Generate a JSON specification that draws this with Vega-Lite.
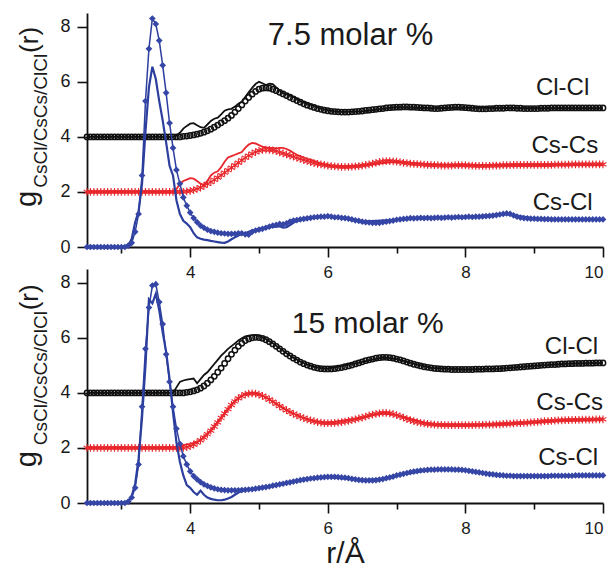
{
"$schema": "https://vega.github.io/schema/vega-lite/v6.json",
"background": "white",
"padding": {"left": 13, "top": 13, "right": 0, "bottom": 0},
"bounds": "flush",
"spacing": 22,
"datasets": {
"m75": [
{"r":2.5,"a":4,"b":2,"c":0},{"r":2.55,"a":4,"b":2,"c":0},{"r":2.6,"a":4,"b":2,"c":0},{"r":2.65,"a":4,"b":2,"c":0},{"r":2.7,"a":4,"b":2,"c":0},{"r":2.75,"a":4,"b":2,"c":0},{"r":2.8,"a":4,"b":2,"c":0},{"r":2.85,"a":4,"b":2,"c":0},{"r":2.9,"a":4,"b":2,"c":0},{"r":2.95,"a":4,"b":2,"c":0},{"r":3.0,"a":4,"b":2,"c":0},{"r":3.05,"a":4,"b":2,"c":0},
{"r":3.1,"a":4,"b":2,"c":0.05},{"r":3.15,"a":4,"b":2,"c":0.15},{"r":3.2,"a":4,"b":2,"c":0.55},{"r":3.25,"a":4,"b":2,"c":1.2},{"r":3.3,"a":4,"b":2,"c":2.6},{"r":3.35,"a":4,"b":2,"c":5.3},{"r":3.4,"a":4,"b":2,"c":7.2},{"r":3.45,"a":4,"b":2,"c":8.3},{"r":3.5,"a":4,"b":2,"c":8.1},{"r":3.55,"a":4,"b":2,"c":7.5},{"r":3.6,"a":4,"b":2,"c":6.6},{"r":3.65,"a":4,"b":2,"c":5.6},{"r":3.7,"a":4,"b":2,"c":4.5},{"r":3.75,"a":4,"b":2,"c":3.6},{"r":3.8,"a":4,"b":2,"c":2.8},{"r":3.85,"a":4,"b":2,"c":2.3},
{"r":3.9,"a":4.02,"b":2,"c":1.8},{"r":3.95,"a":4.03,"b":2.02,"c":1.5},{"r":4.0,"a":4.05,"b":2.04,"c":1.25},{"r":4.05,"a":4.07,"b":2.07,"c":1.05},{"r":4.1,"a":4.1,"b":2.11,"c":0.9},{"r":4.15,"a":4.13,"b":2.16,"c":0.78},{"r":4.2,"a":4.17,"b":2.22,"c":0.7},{"r":4.25,"a":4.22,"b":2.29,"c":0.63},{"r":4.3,"a":4.28,"b":2.36,"c":0.58},{"r":4.35,"a":4.35,"b":2.44,"c":0.55},{"r":4.4,"a":4.43,"b":2.52,"c":0.52},{"r":4.45,"a":4.51,"b":2.61,"c":0.5},{"r":4.5,"a":4.59,"b":2.7,"c":0.49},{"r":4.55,"a":4.68,"b":2.79,"c":0.48},{"r":4.6,"a":4.78,"b":2.88,"c":0.48},{"r":4.65,"a":4.9,"b":2.97,"c":0.48},{"r":4.7,"a":5.03,"b":3.06,"c":0.5},{"r":4.75,"a":5.16,"b":3.15,"c":0.5},{"r":4.8,"a":5.3,"b":3.24,"c":0.46},{"r":4.85,"a":5.43,"b":3.32,"c":0.45},{"r":4.9,"a":5.55,"b":3.39,"c":0.55},{"r":4.95,"a":5.65,"b":3.45,"c":0.6},
{"r":5.0,"a":5.73,"b":3.5,"c":0.63},{"r":5.05,"a":5.77,"b":3.53,"c":0.66},{"r":5.1,"a":5.78,"b":3.54,"c":0.7},{"r":5.15,"a":5.77,"b":3.53,"c":0.74},{"r":5.2,"a":5.73,"b":3.51,"c":0.78},{"r":5.25,"a":5.68,"b":3.48,"c":0.8},{"r":5.3,"a":5.62,"b":3.44,"c":0.84},{"r":5.35,"a":5.56,"b":3.4,"c":0.82},{"r":5.4,"a":5.5,"b":3.36,"c":0.86},{"r":5.45,"a":5.44,"b":3.32,"c":0.92},{"r":5.5,"a":5.38,"b":3.28,"c":0.96},{"r":5.55,"a":5.32,"b":3.24,"c":0.98},{"r":5.6,"a":5.26,"b":3.2,"c":1.0},{"r":5.65,"a":5.2,"b":3.16,"c":1.02},{"r":5.7,"a":5.15,"b":3.12,"c":1.04},{"r":5.75,"a":5.11,"b":3.08,"c":1.06},{"r":5.8,"a":5.07,"b":3.05,"c":1.08},{"r":5.85,"a":5.03,"b":3.02,"c":1.09},{"r":5.9,"a":5.0,"b":3.0,"c":1.1},{"r":5.95,"a":4.97,"b":2.98,"c":1.1},
{"r":6.0,"a":4.95,"b":2.96,"c":1.12},{"r":6.05,"a":4.93,"b":2.94,"c":1.1},{"r":6.1,"a":4.92,"b":2.93,"c":1.08},{"r":6.15,"a":4.91,"b":2.92,"c":1.08},{"r":6.2,"a":4.9,"b":2.91,"c":1.06},{"r":6.25,"a":4.9,"b":2.91,"c":1.05},{"r":6.3,"a":4.9,"b":2.91,"c":1.03},{"r":6.35,"a":4.91,"b":2.92,"c":1.0},{"r":6.4,"a":4.92,"b":2.93,"c":0.97},{"r":6.45,"a":4.93,"b":2.94,"c":0.95},{"r":6.5,"a":4.94,"b":2.96,"c":0.92},{"r":6.55,"a":4.96,"b":2.98,"c":0.9},{"r":6.6,"a":4.97,"b":3.0,"c":0.89},{"r":6.65,"a":4.99,"b":3.03,"c":0.88},{"r":6.7,"a":5.0,"b":3.06,"c":0.88},{"r":6.75,"a":5.02,"b":3.09,"c":0.88},{"r":6.8,"a":5.03,"b":3.11,"c":0.9},{"r":6.85,"a":5.05,"b":3.12,"c":0.92},{"r":6.9,"a":5.06,"b":3.12,"c":0.94},{"r":6.95,"a":5.07,"b":3.11,"c":0.96},
{"r":7.0,"a":5.08,"b":3.1,"c":0.99},{"r":7.05,"a":5.08,"b":3.08,"c":1.0},{"r":7.1,"a":5.09,"b":3.06,"c":1.02},{"r":7.15,"a":5.09,"b":3.05,"c":1.03},{"r":7.2,"a":5.08,"b":3.03,"c":1.05},{"r":7.25,"a":5.08,"b":3.02,"c":1.04},{"r":7.3,"a":5.07,"b":3.01,"c":1.05},{"r":7.35,"a":5.06,"b":3.0,"c":1.06},{"r":7.4,"a":5.05,"b":2.99,"c":1.05},{"r":7.45,"a":5.05,"b":2.98,"c":1.06},{"r":7.5,"a":5.04,"b":2.98,"c":1.05},{"r":7.55,"a":5.03,"b":2.97,"c":1.06},{"r":7.6,"a":5.03,"b":2.97,"c":1.07},{"r":7.65,"a":5.04,"b":2.96,"c":1.06},{"r":7.7,"a":5.05,"b":2.96,"c":1.07},{"r":7.75,"a":5.06,"b":2.96,"c":1.08},{"r":7.8,"a":5.07,"b":2.96,"c":1.07},{"r":7.85,"a":5.08,"b":2.97,"c":1.08},{"r":7.9,"a":5.08,"b":2.97,"c":1.09},{"r":7.95,"a":5.07,"b":2.97,"c":1.08},
{"r":8.0,"a":5.06,"b":2.97,"c":1.09},{"r":8.05,"a":5.05,"b":2.96,"c":1.1},{"r":8.1,"a":5.04,"b":2.96,"c":1.09},{"r":8.15,"a":5.03,"b":2.95,"c":1.1},{"r":8.2,"a":5.02,"b":2.95,"c":1.1},{"r":8.25,"a":5.02,"b":2.95,"c":1.11},{"r":8.3,"a":5.02,"b":2.95,"c":1.12},{"r":8.35,"a":5.03,"b":2.95,"c":1.13},{"r":8.4,"a":5.03,"b":2.96,"c":1.14},{"r":8.45,"a":5.04,"b":2.96,"c":1.16},{"r":8.5,"a":5.04,"b":2.96,"c":1.18},{"r":8.55,"a":5.04,"b":2.97,"c":1.2},{"r":8.6,"a":5.05,"b":2.97,"c":1.22},{"r":8.65,"a":5.05,"b":2.97,"c":1.2},{"r":8.7,"a":5.05,"b":2.98,"c":1.15},{"r":8.75,"a":5.04,"b":2.98,"c":1.1},{"r":8.8,"a":5.04,"b":2.98,"c":1.07},{"r":8.85,"a":5.03,"b":2.98,"c":1.05},{"r":8.9,"a":5.03,"b":2.98,"c":1.04},{"r":8.95,"a":5.03,"b":2.98,"c":1.03},
{"r":9.0,"a":5.03,"b":2.98,"c":1.03},{"r":9.05,"a":5.03,"b":2.98,"c":1.02},{"r":9.1,"a":5.04,"b":2.98,"c":1.02},{"r":9.15,"a":5.04,"b":2.98,"c":1.01},{"r":9.2,"a":5.04,"b":2.98,"c":1.01},{"r":9.25,"a":5.05,"b":2.98,"c":1.0},{"r":9.3,"a":5.05,"b":2.99,"c":1.0},{"r":9.35,"a":5.05,"b":2.99,"c":1.0},{"r":9.4,"a":5.05,"b":2.99,"c":1.0},{"r":9.45,"a":5.05,"b":2.99,"c":1.0},{"r":9.5,"a":5.05,"b":2.99,"c":1.0},{"r":9.55,"a":5.05,"b":3.0,"c":1.0},{"r":9.6,"a":5.05,"b":3.0,"c":1.0},{"r":9.65,"a":5.05,"b":3.0,"c":1.0},{"r":9.7,"a":5.05,"b":3.0,"c":1.0},{"r":9.75,"a":5.05,"b":3.0,"c":1.0},{"r":9.8,"a":5.05,"b":3.0,"c":1.0},{"r":9.85,"a":5.05,"b":3.0,"c":1.0},{"r":9.9,"a":5.05,"b":3.0,"c":1.0},{"r":9.95,"a":5.05,"b":3.0,"c":1.0},{"r":10.0,"a":5.05,"b":3.0,"c":1.0}
],
"m15": [
{"r":2.5,"a":4,"b":2,"c":0},{"r":2.55,"a":4,"b":2,"c":0},{"r":2.6,"a":4,"b":2,"c":0},{"r":2.65,"a":4,"b":2,"c":0},{"r":2.7,"a":4,"b":2,"c":0},{"r":2.75,"a":4,"b":2,"c":0},{"r":2.8,"a":4,"b":2,"c":0},{"r":2.85,"a":4,"b":2,"c":0},{"r":2.9,"a":4,"b":2,"c":0},{"r":2.95,"a":4,"b":2,"c":0},{"r":3.0,"a":4,"b":2,"c":0},{"r":3.05,"a":4,"b":2,"c":0},
{"r":3.1,"a":4,"b":2,"c":0.05},{"r":3.15,"a":4,"b":2,"c":0.2},{"r":3.2,"a":4,"b":2,"c":0.55},{"r":3.25,"a":4,"b":2,"c":1.4},{"r":3.3,"a":4,"b":2,"c":3.5},{"r":3.35,"a":4,"b":2,"c":5.6},{"r":3.4,"a":4,"b":2,"c":7.1},{"r":3.45,"a":4,"b":2,"c":7.9},{"r":3.5,"a":4,"b":2,"c":7.95},{"r":3.55,"a":4,"b":2,"c":7.3},{"r":3.6,"a":4,"b":2,"c":6.5},{"r":3.65,"a":4,"b":2,"c":5.4},{"r":3.7,"a":4,"b":2,"c":4.4},{"r":3.75,"a":4,"b":2,"c":3.5},{"r":3.8,"a":4,"b":2,"c":2.7},{"r":3.85,"a":4,"b":2,"c":2.15},{"r":3.9,"a":4,"b":2,"c":1.7},
{"r":3.95,"a":4.02,"b":2.03,"c":1.4},{"r":4.0,"a":4.04,"b":2.07,"c":1.15},{"r":4.05,"a":4.07,"b":2.12,"c":0.98},{"r":4.1,"a":4.11,"b":2.19,"c":0.86},{"r":4.15,"a":4.17,"b":2.28,"c":0.76},{"r":4.2,"a":4.25,"b":2.38,"c":0.68},{"r":4.25,"a":4.35,"b":2.5,"c":0.62},{"r":4.3,"a":4.47,"b":2.63,"c":0.57},{"r":4.35,"a":4.6,"b":2.78,"c":0.53},{"r":4.4,"a":4.75,"b":2.93,"c":0.5},{"r":4.45,"a":4.9,"b":3.09,"c":0.48},{"r":4.5,"a":5.07,"b":3.25,"c":0.47},{"r":4.55,"a":5.24,"b":3.41,"c":0.46},{"r":4.6,"a":5.4,"b":3.56,"c":0.46},{"r":4.65,"a":5.55,"b":3.69,"c":0.46},{"r":4.7,"a":5.69,"b":3.8,"c":0.46},{"r":4.75,"a":5.8,"b":3.88,"c":0.47},{"r":4.8,"a":5.9,"b":3.94,"c":0.48},{"r":4.85,"a":5.96,"b":3.97,"c":0.49},{"r":4.9,"a":6.0,"b":3.98,"c":0.5},{"r":4.95,"a":6.02,"b":3.97,"c":0.52},
{"r":5.0,"a":6.01,"b":3.94,"c":0.54},{"r":5.05,"a":5.98,"b":3.89,"c":0.56},{"r":5.1,"a":5.93,"b":3.83,"c":0.58},{"r":5.15,"a":5.86,"b":3.76,"c":0.6},{"r":5.2,"a":5.78,"b":3.68,"c":0.63},{"r":5.25,"a":5.69,"b":3.6,"c":0.65},{"r":5.3,"a":5.6,"b":3.52,"c":0.68},{"r":5.35,"a":5.51,"b":3.44,"c":0.7},{"r":5.4,"a":5.42,"b":3.37,"c":0.73},{"r":5.45,"a":5.34,"b":3.3,"c":0.75},{"r":5.5,"a":5.26,"b":3.24,"c":0.78},{"r":5.55,"a":5.19,"b":3.18,"c":0.8},{"r":5.6,"a":5.12,"b":3.13,"c":0.83},{"r":5.65,"a":5.06,"b":3.08,"c":0.85},{"r":5.7,"a":5.01,"b":3.04,"c":0.87},{"r":5.75,"a":4.97,"b":3.0,"c":0.89},{"r":5.8,"a":4.93,"b":2.97,"c":0.9},{"r":5.85,"a":4.9,"b":2.94,"c":0.92},{"r":5.9,"a":4.88,"b":2.92,"c":0.93},{"r":5.95,"a":4.87,"b":2.9,"c":0.94},
{"r":6.0,"a":4.87,"b":2.9,"c":0.95},{"r":6.05,"a":4.87,"b":2.9,"c":0.95},{"r":6.1,"a":4.88,"b":2.91,"c":0.95},{"r":6.15,"a":4.9,"b":2.92,"c":0.94},{"r":6.2,"a":4.92,"b":2.94,"c":0.93},{"r":6.25,"a":4.95,"b":2.96,"c":0.92},{"r":6.3,"a":4.98,"b":2.98,"c":0.9},{"r":6.35,"a":5.01,"b":3.01,"c":0.88},{"r":6.4,"a":5.05,"b":3.04,"c":0.86},{"r":6.45,"a":5.09,"b":3.07,"c":0.84},{"r":6.5,"a":5.13,"b":3.1,"c":0.83},{"r":6.55,"a":5.17,"b":3.14,"c":0.82},{"r":6.6,"a":5.2,"b":3.18,"c":0.82},{"r":6.65,"a":5.23,"b":3.21,"c":0.82},{"r":6.7,"a":5.26,"b":3.24,"c":0.83},{"r":6.75,"a":5.28,"b":3.26,"c":0.85},{"r":6.8,"a":5.29,"b":3.27,"c":0.87},{"r":6.85,"a":5.29,"b":3.27,"c":0.9},{"r":6.9,"a":5.28,"b":3.26,"c":0.93},{"r":6.95,"a":5.26,"b":3.23,"c":0.96},
{"r":7.0,"a":5.23,"b":3.19,"c":1.0},{"r":7.05,"a":5.2,"b":3.15,"c":1.03},{"r":7.1,"a":5.16,"b":3.1,"c":1.06},{"r":7.15,"a":5.12,"b":3.05,"c":1.09},{"r":7.2,"a":5.08,"b":3.01,"c":1.12},{"r":7.25,"a":5.04,"b":2.97,"c":1.14},{"r":7.3,"a":5.01,"b":2.94,"c":1.16},{"r":7.35,"a":4.98,"b":2.91,"c":1.18},{"r":7.4,"a":4.95,"b":2.89,"c":1.19},{"r":7.45,"a":4.93,"b":2.87,"c":1.2},{"r":7.5,"a":4.91,"b":2.86,"c":1.21},{"r":7.55,"a":4.89,"b":2.85,"c":1.21},{"r":7.6,"a":4.88,"b":2.84,"c":1.22},{"r":7.65,"a":4.87,"b":2.84,"c":1.22},{"r":7.7,"a":4.86,"b":2.83,"c":1.22},{"r":7.75,"a":4.86,"b":2.83,"c":1.22},{"r":7.8,"a":4.85,"b":2.83,"c":1.22},{"r":7.85,"a":4.85,"b":2.83,"c":1.21},{"r":7.9,"a":4.85,"b":2.83,"c":1.21},{"r":7.95,"a":4.85,"b":2.83,"c":1.2},
{"r":8.0,"a":4.85,"b":2.83,"c":1.19},{"r":8.05,"a":4.85,"b":2.83,"c":1.17},{"r":8.1,"a":4.85,"b":2.83,"c":1.15},{"r":8.15,"a":4.86,"b":2.84,"c":1.13},{"r":8.2,"a":4.86,"b":2.84,"c":1.11},{"r":8.25,"a":4.86,"b":2.84,"c":1.09},{"r":8.3,"a":4.87,"b":2.85,"c":1.07},{"r":8.35,"a":4.87,"b":2.85,"c":1.05},{"r":8.4,"a":4.87,"b":2.85,"c":1.04},{"r":8.45,"a":4.88,"b":2.86,"c":1.02},{"r":8.5,"a":4.88,"b":2.86,"c":1.01},{"r":8.55,"a":4.89,"b":2.87,"c":1.0},{"r":8.6,"a":4.9,"b":2.88,"c":0.99},{"r":8.65,"a":4.91,"b":2.88,"c":0.99},{"r":8.7,"a":4.92,"b":2.89,"c":0.98},{"r":8.75,"a":4.93,"b":2.9,"c":0.98},{"r":8.8,"a":4.94,"b":2.9,"c":0.98},{"r":8.85,"a":4.95,"b":2.91,"c":0.98},{"r":8.9,"a":4.96,"b":2.92,"c":0.98},{"r":8.95,"a":4.97,"b":2.93,"c":0.98},
{"r":9.0,"a":4.98,"b":2.94,"c":0.98},{"r":9.05,"a":4.99,"b":2.95,"c":0.98},{"r":9.1,"a":5.0,"b":2.96,"c":0.98},{"r":9.15,"a":5.01,"b":2.97,"c":0.98},{"r":9.2,"a":5.02,"b":2.97,"c":0.98},{"r":9.25,"a":5.03,"b":2.98,"c":0.99},{"r":9.3,"a":5.03,"b":2.99,"c":0.99},{"r":9.35,"a":5.04,"b":3.0,"c":0.99},{"r":9.4,"a":5.05,"b":3.0,"c":0.99},{"r":9.45,"a":5.05,"b":3.01,"c":0.99},{"r":9.5,"a":5.06,"b":3.01,"c":0.99},{"r":9.55,"a":5.06,"b":3.02,"c":0.99},{"r":9.6,"a":5.07,"b":3.02,"c":1.0},{"r":9.65,"a":5.07,"b":3.02,"c":1.0},{"r":9.7,"a":5.07,"b":3.03,"c":1.0},{"r":9.75,"a":5.08,"b":3.03,"c":1.0},{"r":9.8,"a":5.08,"b":3.03,"c":1.0},{"r":9.85,"a":5.08,"b":3.03,"c":1.0},{"r":9.9,"a":5.09,"b":3.04,"c":1.0},{"r":9.95,"a":5.09,"b":3.04,"c":1.0},{"r":10.0,"a":5.09,"b":3.04,"c":1.0}
],
"l75": [
{"r":2.5,"a":4,"b":2,"c":0},{"r":3.05,"a":4,"b":2,"c":0},{"r":3.1,"a":4,"b":2,"c":0.05},{"r":3.15,"a":4,"b":2,"c":0.3},{"r":3.2,"a":4,"b":2,"c":0.9},{"r":3.25,"a":4,"b":2,"c":1.3},{"r":3.3,"a":4,"b":2,"c":2.3},{"r":3.35,"a":4,"b":2,"c":4.2},{"r":3.4,"a":4,"b":2,"c":5.8},{"r":3.45,"a":4,"b":2,"c":6.55},{"r":3.5,"a":4,"b":2,"c":6.1},{"r":3.55,"a":4,"b":2,"c":5.3},{"r":3.6,"a":4,"b":2,"c":4.6},{"r":3.65,"a":4,"b":2,"c":3.8},{"r":3.7,"a":4,"b":2,"c":2.95},{"r":3.75,"a":4,"b":2,"c":2.6},
{"r":3.8,"a":4.05,"b":2.1,"c":1.7},{"r":3.85,"a":4.15,"b":2.3,"c":1.2},{"r":3.9,"a":4.3,"b":2.4,"c":0.95},{"r":3.95,"a":4.4,"b":2.45,"c":0.85},{"r":4.0,"a":4.48,"b":2.5,"c":0.72},{"r":4.05,"a":4.5,"b":2.48,"c":0.5},{"r":4.1,"a":4.42,"b":2.4,"c":0.35},{"r":4.15,"a":4.35,"b":2.3,"c":0.3},{"r":4.2,"a":4.33,"b":2.25,"c":0.27},{"r":4.25,"a":4.45,"b":2.4,"c":0.25},{"r":4.3,"a":4.58,"b":2.6,"c":0.22},{"r":4.35,"a":4.66,"b":2.7,"c":0.2},{"r":4.4,"a":4.7,"b":2.75,"c":0.18},{"r":4.45,"a":4.82,"b":2.9,"c":0.16},{"r":4.5,"a":4.95,"b":3.1,"c":0.15},{"r":4.55,"a":5.0,"b":3.25,"c":0.2},{"r":4.6,"a":5.02,"b":3.3,"c":0.28},{"r":4.65,"a":5.1,"b":3.35,"c":0.35},{"r":4.7,"a":5.2,"b":3.4,"c":0.42},{"r":4.75,"a":5.28,"b":3.45,"c":0.47},{"r":4.8,"a":5.45,"b":3.6,"c":0.5},{"r":4.85,"a":5.62,"b":3.72,"c":0.55},{"r":4.9,"a":5.78,"b":3.78,"c":0.6},{"r":4.95,"a":5.92,"b":3.76,"c":0.62},
{"r":5.0,"a":6.0,"b":3.7,"c":0.65},{"r":5.05,"a":5.95,"b":3.65,"c":0.68},{"r":5.1,"a":5.88,"b":3.62,"c":0.7},{"r":5.15,"a":5.93,"b":3.6,"c":0.72},{"r":5.2,"a":5.92,"b":3.6,"c":0.73},{"r":5.25,"a":5.8,"b":3.58,"c":0.74},{"r":5.3,"a":5.68,"b":3.6,"c":0.75},{"r":5.35,"a":5.6,"b":3.6,"c":0.7},{"r":5.4,"a":5.55,"b":3.56,"c":0.72},{"r":5.45,"a":5.5,"b":3.5,"c":0.8},{"r":5.5,"a":5.45,"b":3.42,"c":0.88},{"r":5.55,"a":5.38,"b":3.35,"c":0.95},{"r":5.6,"a":5.3,"b":3.3,"c":0.98},{"r":5.65,"a":5.25,"b":3.25,"c":1.0},{"r":5.7,"a":5.2,"b":3.2,"c":1.02},{"r":5.75,"a":5.17,"b":3.17,"c":1.05},{"r":5.8,"a":5.13,"b":3.13,"c":1.07},{"r":5.85,"a":5.08,"b":3.08,"c":1.08},{"r":5.9,"a":5.04,"b":3.04,"c":1.1},{"r":5.95,"a":5.0,"b":3.0,"c":1.1},
{"r":6.0,"a":4.97,"b":2.97,"c":1.12},{"r":6.1,"a":4.93,"b":2.94,"c":1.08},{"r":6.2,"a":4.91,"b":2.92,"c":1.06},{"r":6.5,"a":4.93,"b":2.96,"c":0.92},{"r":7.0,"a":5.08,"b":3.1,"c":0.99},{"r":7.5,"a":5.04,"b":2.99,"c":1.05},{"r":8.0,"a":5.06,"b":2.97,"c":1.08},{"r":8.6,"a":5.05,"b":2.97,"c":1.2},{"r":9.0,"a":5.04,"b":2.98,"c":1.03},{"r":9.5,"a":5.04,"b":2.99,"c":1.0},{"r":10.0,"a":5.04,"b":2.98,"c":1.0}
],
"l15": [
{"r":2.5,"a":4,"b":2,"c":0},{"r":3.05,"a":4,"b":2,"c":0},{"r":3.1,"a":4,"b":2,"c":0.05},{"r":3.15,"a":4,"b":2,"c":0.25},{"r":3.2,"a":4,"b":2,"c":0.7},{"r":3.25,"a":4,"b":2,"c":1.6},{"r":3.3,"a":4,"b":2,"c":3.1},{"r":3.35,"a":4,"b":2,"c":5.0},{"r":3.4,"a":4,"b":2,"c":7.4},{"r":3.45,"a":4,"b":2,"c":7.25},{"r":3.5,"a":4,"b":2,"c":7.6},{"r":3.55,"a":4,"b":2,"c":7.0},{"r":3.6,"a":4,"b":2,"c":6.2},{"r":3.65,"a":4,"b":2,"c":5.5},{"r":3.7,"a":4,"b":2,"c":4.5},{"r":3.75,"a":4,"b":2,"c":3.3},
{"r":3.8,"a":4.2,"b":2,"c":2.2},{"r":3.85,"a":4.4,"b":2.05,"c":1.5},{"r":3.9,"a":4.45,"b":2.1,"c":1.0},{"r":3.95,"a":4.48,"b":2.13,"c":0.65},{"r":4.0,"a":4.5,"b":2.15,"c":0.55},{"r":4.05,"a":4.52,"b":2.18,"c":0.4},{"r":4.1,"a":4.35,"b":2.22,"c":0.3},{"r":4.15,"a":4.5,"b":2.3,"c":0.45},{"r":4.2,"a":4.65,"b":2.4,"c":0.3},{"r":4.25,"a":4.75,"b":2.52,"c":0.2},{"r":4.3,"a":4.9,"b":2.64,"c":0.15},{"r":4.35,"a":5.05,"b":2.79,"c":0.12},{"r":4.4,"a":5.2,"b":2.94,"c":0.1},{"r":4.45,"a":5.35,"b":3.1,"c":0.1},{"r":4.5,"a":5.47,"b":3.26,"c":0.12},{"r":4.55,"a":5.6,"b":3.42,"c":0.16},{"r":4.6,"a":5.7,"b":3.57,"c":0.22},{"r":4.65,"a":5.8,"b":3.7,"c":0.3},{"r":4.7,"a":5.9,"b":3.81,"c":0.38},{"r":4.75,"a":5.98,"b":3.89,"c":0.44},{"r":4.8,"a":6.05,"b":3.95,"c":0.48},{"r":4.85,"a":6.08,"b":3.98,"c":0.49},{"r":4.9,"a":6.1,"b":3.99,"c":0.5},{"r":4.95,"a":6.1,"b":3.98,"c":0.52},
{"r":5.0,"a":6.08,"b":3.95,"c":0.54},{"r":5.1,"a":5.96,"b":3.84,"c":0.58},{"r":5.2,"a":5.8,"b":3.69,"c":0.63},{"r":5.3,"a":5.62,"b":3.53,"c":0.68},{"r":5.4,"a":5.44,"b":3.38,"c":0.73},{"r":5.5,"a":5.28,"b":3.25,"c":0.78},{"r":5.6,"a":5.14,"b":3.14,"c":0.83},{"r":5.7,"a":5.03,"b":3.05,"c":0.87},{"r":5.8,"a":4.95,"b":2.98,"c":0.9},{"r":5.9,"a":4.9,"b":2.93,"c":0.93},{"r":6.0,"a":4.88,"b":2.91,"c":0.95},{"r":6.5,"a":5.13,"b":3.1,"c":0.83},{"r":6.8,"a":5.29,"b":3.27,"c":0.87},{"r":7.0,"a":5.23,"b":3.19,"c":1.0},{"r":7.5,"a":4.91,"b":2.86,"c":1.21},{"r":8.0,"a":4.85,"b":2.83,"c":1.19},{"r":8.5,"a":4.88,"b":2.86,"c":1.01},{"r":9.0,"a":4.98,"b":2.94,"c":0.98},{"r":9.5,"a":5.06,"b":3.01,"c":0.99},{"r":10.0,"a":5.09,"b":3.04,"c":1.0}
],
"t75": [
{"s":"title","t":"7.5 molar %"},{"s":"ll","t":"Cl-Cl"},{"s":"ss","t":"Cs-Cs"},{"s":"sl","t":"Cs-Cl"},{"s":"g","t":"g"},{"s":"sub","t":"CsCl/CsCs/ClCl"},{"s":"rr","t":"(r)"}
],
"t15": [
{"s":"title","t":"15 molar %"},{"s":"ll","t":"Cl-Cl"},{"s":"ss","t":"Cs-Cs"},{"s":"sl","t":"Cs-Cl"},{"s":"g","t":"g"},{"s":"sub","t":"CsCl/CsCs/ClCl"},{"s":"rr","t":"(r)"}
]
},
"vconcat": [
{
"width": 516, "height": 234,
"layer": [
{"data": {"name": "l75"}, "mark": {"type": "line", "color": "#111111", "strokeWidth": 1.8}, "encoding": {"x": {"field": "r", "type": "quantitative", "scale": {"domain": [2.5, 10], "nice": false, "zero": false}, "axis": {"values": [3,4,5,6,7,8,9,10], "labelExpr": "datum.value % 2 == 0 ? format(datum.value, 'd') : ''", "tickSize": {"expr": "datum.value % 2 == 0 ? 10 : 6"}, "labelPadding": 7, "title": null}}, "y": {"field": "a", "type": "quantitative", "scale": {"domain": [0, 8.5], "nice": false}, "axis": {"values": [0,1,2,3,4,5,6,7,8], "labelExpr": "datum.value % 2 == 0 ? format(datum.value, 'd') : ''", "tickSize": {"expr": "datum.value % 2 == 0 ? 10 : 5"}, "labelPadding": 7, "title": null}}}},
{"data": {"name": "l75"}, "mark": {"type": "line", "color": "#e8262b", "strokeWidth": 1.8}, "encoding": {"x": {"field": "r", "type": "quantitative", "title": null}, "y": {"field": "b", "type": "quantitative", "title": null}}},
{"data": {"name": "m75"}, "mark": {"type": "point", "shape": "circle", "filled": false, "color": "#111111", "size": 28, "strokeWidth": 1.5, "opacity": 1}, "encoding": {"x": {"field": "r", "type": "quantitative", "title": null}, "y": {"field": "a", "type": "quantitative", "title": null}}},
{"data": {"name": "m75"}, "mark": {"type": "point", "shape": "M0,-1L0,1M-0.87,-0.5L0.87,0.5M-0.87,0.5L0.87,-0.5", "filled": false, "color": "#e8262b", "size": 60, "strokeWidth": 1.1, "opacity": 1}, "encoding": {"x": {"field": "r", "type": "quantitative", "title": null}, "y": {"field": "b", "type": "quantitative", "title": null}}},
{"data": {"name": "l75"}, "mark": {"type": "line", "color": "#2c3e9e", "strokeWidth": 2.2}, "encoding": {"x": {"field": "r", "type": "quantitative", "title": null}, "y": {"field": "c", "type": "quantitative", "title": null}}},
{"data": {"name": "m75"}, "mark": {"type": "line", "color": "#2c3e9e", "strokeWidth": 1.5}, "encoding": {"x": {"field": "r", "type": "quantitative", "title": null}, "y": {"field": "c", "type": "quantitative", "title": null}}},
{"data": {"name": "m75"}, "mark": {"type": "point", "shape": "diamond", "filled": true, "color": "#3546a6", "size": 45, "opacity": 1}, "encoding": {"x": {"field": "r", "type": "quantitative", "title": null}, "y": {"field": "c", "type": "quantitative", "title": null}}},
{"data": {"name": "t75"}, "transform": [{"filter": "datum.s == 'title'"}], "mark": {"type": "text", "fontSize": 31, "align": "center", "baseline": "alphabetic", "color": "#1a1a1a"}, "encoding": {"x": {"datum": 6.33, "type": "quantitative"}, "y": {"datum": 7.35, "type": "quantitative"}, "text": {"field": "t"}}},
{"data": {"name": "t75"}, "transform": [{"filter": "datum.s == 'll'"}], "mark": {"type": "text", "fontSize": 24, "align": "right", "baseline": "alphabetic", "color": "#1a1a1a"}, "encoding": {"x": {"datum": 9.8, "type": "quantitative"}, "y": {"datum": 5.53, "type": "quantitative"}, "text": {"field": "t"}}},
{"data": {"name": "t75"}, "transform": [{"filter": "datum.s == 'ss'"}], "mark": {"type": "text", "fontSize": 24, "align": "right", "baseline": "alphabetic", "color": "#1a1a1a"}, "encoding": {"x": {"datum": 9.93, "type": "quantitative"}, "y": {"datum": 3.42, "type": "quantitative"}, "text": {"field": "t"}}},
{"data": {"name": "t75"}, "transform": [{"filter": "datum.s == 'sl'"}], "mark": {"type": "text", "fontSize": 24, "align": "right", "baseline": "alphabetic", "color": "#1a1a1a"}, "encoding": {"x": {"datum": 9.85, "type": "quantitative"}, "y": {"datum": 1.35, "type": "quantitative"}, "text": {"field": "t"}}},
{"data": {"name": "t75"}, "transform": [{"filter": "datum.s == 'g'"}], "mark": {"type": "text", "fontSize": 29, "angle": 270, "align": "left", "baseline": "alphabetic", "color": "#1a1a1a"}, "encoding": {"x": {"datum": 1.76, "type": "quantitative"}, "y": {"datum": 1.45, "type": "quantitative"}, "text": {"field": "t"}}},
{"data": {"name": "t75"}, "transform": [{"filter": "datum.s == 'sub'"}], "mark": {"type": "text", "fontSize": 19, "angle": 270, "align": "left", "baseline": "alphabetic", "color": "#1a1a1a"}, "encoding": {"x": {"datum": 1.92, "type": "quantitative"}, "y": {"datum": 2.15, "type": "quantitative"}, "text": {"field": "t"}}},
{"data": {"name": "t75"}, "transform": [{"filter": "datum.s == 'rr'"}], "mark": {"type": "text", "fontSize": 26, "angle": 270, "align": "left", "baseline": "alphabetic", "color": "#1a1a1a"}, "encoding": {"x": {"datum": 1.79, "type": "quantitative"}, "y": {"datum": 7.05, "type": "quantitative"}, "text": {"field": "t"}}}
]
},
{
"width": 516, "height": 234,
"layer": [
{"data": {"name": "l15"}, "mark": {"type": "line", "color": "#111111", "strokeWidth": 1.8}, "encoding": {"x": {"field": "r", "type": "quantitative", "scale": {"domain": [2.5, 10], "nice": false, "zero": false}, "axis": {"values": [3,4,5,6,7,8,9,10], "labelExpr": "datum.value % 2 == 0 ? format(datum.value, 'd') : ''", "tickSize": {"expr": "datum.value % 2 == 0 ? 10 : 6"}, "labelPadding": 7, "title": "r/Å", "titleFontSize": 30, "titleFontWeight": "normal", "titleColor": "#1a1a1a", "titlePadding": 2}}, "y": {"field": "a", "type": "quantitative", "scale": {"domain": [0, 8.5], "nice": false}, "axis": {"values": [0,1,2,3,4,5,6,7,8], "labelExpr": "datum.value % 2 == 0 ? format(datum.value, 'd') : ''", "tickSize": {"expr": "datum.value % 2 == 0 ? 10 : 5"}, "labelPadding": 7, "title": null}}}},
{"data": {"name": "l15"}, "mark": {"type": "line", "color": "#e8262b", "strokeWidth": 1.8}, "encoding": {"x": {"field": "r", "type": "quantitative"}, "y": {"field": "b", "type": "quantitative", "title": null}}},
{"data": {"name": "m15"}, "mark": {"type": "point", "shape": "circle", "filled": false, "color": "#111111", "size": 28, "strokeWidth": 1.5, "opacity": 1}, "encoding": {"x": {"field": "r", "type": "quantitative"}, "y": {"field": "a", "type": "quantitative", "title": null}}},
{"data": {"name": "m15"}, "mark": {"type": "point", "shape": "M0,-1L0,1M-0.87,-0.5L0.87,0.5M-0.87,0.5L0.87,-0.5", "filled": false, "color": "#e8262b", "size": 60, "strokeWidth": 1.1, "opacity": 1}, "encoding": {"x": {"field": "r", "type": "quantitative"}, "y": {"field": "b", "type": "quantitative", "title": null}}},
{"data": {"name": "l15"}, "mark": {"type": "line", "color": "#2c3e9e", "strokeWidth": 2.2}, "encoding": {"x": {"field": "r", "type": "quantitative"}, "y": {"field": "c", "type": "quantitative", "title": null}}},
{"data": {"name": "m15"}, "mark": {"type": "line", "color": "#2c3e9e", "strokeWidth": 1.5}, "encoding": {"x": {"field": "r", "type": "quantitative"}, "y": {"field": "c", "type": "quantitative", "title": null}}},
{"data": {"name": "m15"}, "mark": {"type": "point", "shape": "diamond", "filled": true, "color": "#3546a6", "size": 45, "opacity": 1}, "encoding": {"x": {"field": "r", "type": "quantitative"}, "y": {"field": "c", "type": "quantitative", "title": null}}},
{"data": {"name": "t15"}, "transform": [{"filter": "datum.s == 'title'"}], "mark": {"type": "text", "fontSize": 30, "align": "center", "baseline": "alphabetic", "color": "#1a1a1a"}, "encoding": {"x": {"datum": 6.58, "type": "quantitative"}, "y": {"datum": 6.16, "type": "quantitative"}, "text": {"field": "t"}}},
{"data": {"name": "t15"}, "transform": [{"filter": "datum.s == 'll'"}], "mark": {"type": "text", "fontSize": 24, "align": "right", "baseline": "alphabetic", "color": "#1a1a1a"}, "encoding": {"x": {"datum": 9.93, "type": "quantitative"}, "y": {"datum": 5.43, "type": "quantitative"}, "text": {"field": "t"}}},
{"data": {"name": "t15"}, "transform": [{"filter": "datum.s == 'ss'"}], "mark": {"type": "text", "fontSize": 24, "align": "right", "baseline": "alphabetic", "color": "#1a1a1a"}, "encoding": {"x": {"datum": 10.0, "type": "quantitative"}, "y": {"datum": 3.37, "type": "quantitative"}, "text": {"field": "t"}}},
{"data": {"name": "t15"}, "transform": [{"filter": "datum.s == 'sl'"}], "mark": {"type": "text", "fontSize": 24, "align": "right", "baseline": "alphabetic", "color": "#1a1a1a"}, "encoding": {"x": {"datum": 9.93, "type": "quantitative"}, "y": {"datum": 1.38, "type": "quantitative"}, "text": {"field": "t"}}},
{"data": {"name": "t15"}, "transform": [{"filter": "datum.s == 'g'"}], "mark": {"type": "text", "fontSize": 29, "angle": 270, "align": "left", "baseline": "alphabetic", "color": "#1a1a1a"}, "encoding": {"x": {"datum": 1.76, "type": "quantitative"}, "y": {"datum": 1.3, "type": "quantitative"}, "text": {"field": "t"}}},
{"data": {"name": "t15"}, "transform": [{"filter": "datum.s == 'sub'"}], "mark": {"type": "text", "fontSize": 19, "angle": 270, "align": "left", "baseline": "alphabetic", "color": "#1a1a1a"}, "encoding": {"x": {"datum": 1.92, "type": "quantitative"}, "y": {"datum": 2.1, "type": "quantitative"}, "text": {"field": "t"}}},
{"data": {"name": "t15"}, "transform": [{"filter": "datum.s == 'rr'"}], "mark": {"type": "text", "fontSize": 26, "angle": 270, "align": "left", "baseline": "alphabetic", "color": "#1a1a1a"}, "encoding": {"x": {"datum": 1.79, "type": "quantitative"}, "y": {"datum": 7.0, "type": "quantitative"}, "text": {"field": "t"}}}
]
}
],
"config": {
"font": "Liberation Sans",
"view": {"stroke": null},
"text": {"font": "Liberation Sans"},
"axis": {"grid": false, "domainColor": "#111111", "domainWidth": 1.8, "tickColor": "#111111", "tickWidth": 1.6, "labelColor": "#1a1a1a", "labelFont": "Liberation Sans", "titleFont": "Liberation Sans"},
"axisX": {"labelFontSize": 17},
"axisY": {"labelFontSize": 18}
}
}
